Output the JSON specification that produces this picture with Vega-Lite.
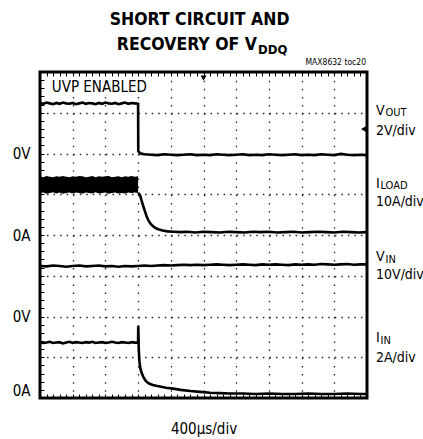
{
  "$schema": "https://vega.github.io/schema/vega-lite/v6.json",
  "width": 327,
  "height": 326,
  "autosize": "none",
  "padding": {"left": 40, "top": 72, "right": 56, "bottom": 41},
  "background": "white",
  "config": {
    "font": "DejaVu Sans Condensed, Liberation Sans, sans-serif",
    "view": {"stroke": "black", "strokeWidth": 3}
  },
  "data": {"values": [{}]},
  "datasets": {
    "traces": [
      {"s":"VOUT","t":0,"v":7.24},{"s":"VOUT","t":0.1,"v":7.22},{"s":"VOUT","t":0.2,"v":7.25},{"s":"VOUT","t":0.3,"v":7.23},{"s":"VOUT","t":0.4,"v":7.21},{"s":"VOUT","t":0.5,"v":7.24},{"s":"VOUT","t":0.6,"v":7.22},{"s":"VOUT","t":0.7,"v":7.25},{"s":"VOUT","t":0.8,"v":7.23},{"s":"VOUT","t":0.9,"v":7.22},
      {"s":"VOUT","t":1.0,"v":7.24},{"s":"VOUT","t":1.1,"v":7.21},{"s":"VOUT","t":1.2,"v":7.23},{"s":"VOUT","t":1.3,"v":7.25},{"s":"VOUT","t":1.4,"v":7.22},{"s":"VOUT","t":1.5,"v":7.24},{"s":"VOUT","t":1.6,"v":7.23},{"s":"VOUT","t":1.7,"v":7.21},{"s":"VOUT","t":1.8,"v":7.24},{"s":"VOUT","t":1.9,"v":7.22},
      {"s":"VOUT","t":2.0,"v":7.25},{"s":"VOUT","t":2.1,"v":7.23},{"s":"VOUT","t":2.2,"v":7.22},{"s":"VOUT","t":2.3,"v":7.24},{"s":"VOUT","t":2.4,"v":7.21},{"s":"VOUT","t":2.5,"v":7.23},{"s":"VOUT","t":2.6,"v":7.25},{"s":"VOUT","t":2.7,"v":7.22},{"s":"VOUT","t":2.8,"v":7.24},{"s":"VOUT","t":2.9,"v":7.23},{"s":"VOUT","t":3.0,"v":7.22},
      {"s":"VOUT","t":3.005,"v":6.06},{"s":"VOUT","t":3.03,"v":6.03},{"s":"VOUT","t":3.07,"v":6.01},{"s":"VOUT","t":3.12,"v":5.99},{"s":"VOUT","t":3.2,"v":5.98},
      {"s":"VOUT","t":3.4,"v":5.97},{"s":"VOUT","t":3.6,"v":5.96},{"s":"VOUT","t":3.8,"v":5.98},{"s":"VOUT","t":4.0,"v":5.97},{"s":"VOUT","t":4.2,"v":5.96},{"s":"VOUT","t":4.4,"v":5.97},{"s":"VOUT","t":4.6,"v":5.98},{"s":"VOUT","t":4.8,"v":5.96},{"s":"VOUT","t":5.0,"v":5.97},{"s":"VOUT","t":5.2,"v":5.96},
      {"s":"VOUT","t":5.4,"v":5.98},{"s":"VOUT","t":5.6,"v":5.97},{"s":"VOUT","t":5.8,"v":5.96},{"s":"VOUT","t":6.0,"v":5.97},{"s":"VOUT","t":6.2,"v":5.98},{"s":"VOUT","t":6.4,"v":5.96},{"s":"VOUT","t":6.6,"v":5.97},{"s":"VOUT","t":6.8,"v":5.96},{"s":"VOUT","t":7.0,"v":5.98},{"s":"VOUT","t":7.2,"v":5.97},
      {"s":"VOUT","t":7.4,"v":5.96},{"s":"VOUT","t":7.6,"v":5.97},{"s":"VOUT","t":7.8,"v":5.98},{"s":"VOUT","t":8.0,"v":5.96},{"s":"VOUT","t":8.2,"v":5.97},{"s":"VOUT","t":8.4,"v":5.96},{"s":"VOUT","t":8.6,"v":5.98},{"s":"VOUT","t":8.8,"v":5.97},{"s":"VOUT","t":9.0,"v":5.96},{"s":"VOUT","t":9.2,"v":5.99},{"s":"VOUT","t":9.4,"v":5.97},{"s":"VOUT","t":9.6,"v":5.96},{"s":"VOUT","t":9.8,"v":5.97},{"s":"VOUT","t":10,"v":5.96},

      {"s":"ILOAD","t":3.0,"v":5.03},{"s":"ILOAD","t":3.04,"v":5.0},{"s":"ILOAD","t":3.07,"v":4.95},{"s":"ILOAD","t":3.1,"v":4.86},{"s":"ILOAD","t":3.13,"v":4.78},{"s":"ILOAD","t":3.17,"v":4.68},{"s":"ILOAD","t":3.21,"v":4.58},{"s":"ILOAD","t":3.26,"v":4.46},{"s":"ILOAD","t":3.32,"v":4.35},{"s":"ILOAD","t":3.38,"v":4.28},
      {"s":"ILOAD","t":3.45,"v":4.22},{"s":"ILOAD","t":3.53,"v":4.17},{"s":"ILOAD","t":3.62,"v":4.14},{"s":"ILOAD","t":3.75,"v":4.11},{"s":"ILOAD","t":3.9,"v":4.09},{"s":"ILOAD","t":4.1,"v":4.08},{"s":"ILOAD","t":4.3,"v":4.07},{"s":"ILOAD","t":4.5,"v":4.08},{"s":"ILOAD","t":4.75,"v":4.06},{"s":"ILOAD","t":5.0,"v":4.08},
      {"s":"ILOAD","t":5.25,"v":4.07},{"s":"ILOAD","t":5.5,"v":4.06},{"s":"ILOAD","t":5.75,"v":4.08},{"s":"ILOAD","t":6.0,"v":4.07},{"s":"ILOAD","t":6.25,"v":4.06},{"s":"ILOAD","t":6.5,"v":4.08},{"s":"ILOAD","t":6.75,"v":4.07},{"s":"ILOAD","t":7.0,"v":4.08},{"s":"ILOAD","t":7.25,"v":4.06},{"s":"ILOAD","t":7.5,"v":4.07},
      {"s":"ILOAD","t":7.75,"v":4.08},{"s":"ILOAD","t":8.0,"v":4.06},{"s":"ILOAD","t":8.25,"v":4.07},{"s":"ILOAD","t":8.5,"v":4.08},{"s":"ILOAD","t":8.75,"v":4.07},{"s":"ILOAD","t":9.0,"v":4.06},{"s":"ILOAD","t":9.25,"v":4.08},{"s":"ILOAD","t":9.5,"v":4.07},{"s":"ILOAD","t":9.75,"v":4.06},{"s":"ILOAD","t":10,"v":4.07},

      {"s":"VIN","t":0,"v":3.24},{"s":"VIN","t":0.2,"v":3.23},{"s":"VIN","t":0.4,"v":3.25},{"s":"VIN","t":0.6,"v":3.24},{"s":"VIN","t":0.8,"v":3.22},{"s":"VIN","t":1.0,"v":3.24},{"s":"VIN","t":1.2,"v":3.25},{"s":"VIN","t":1.4,"v":3.23},{"s":"VIN","t":1.6,"v":3.24},{"s":"VIN","t":1.8,"v":3.25},
      {"s":"VIN","t":2.0,"v":3.23},{"s":"VIN","t":2.2,"v":3.24},{"s":"VIN","t":2.4,"v":3.22},{"s":"VIN","t":2.6,"v":3.24},{"s":"VIN","t":2.8,"v":3.23},{"s":"VIN","t":3.0,"v":3.24},{"s":"VIN","t":3.2,"v":3.25},{"s":"VIN","t":3.4,"v":3.24},{"s":"VIN","t":3.6,"v":3.25},{"s":"VIN","t":3.8,"v":3.26},
      {"s":"VIN","t":4.0,"v":3.25},{"s":"VIN","t":4.2,"v":3.26},{"s":"VIN","t":4.4,"v":3.27},{"s":"VIN","t":4.6,"v":3.26},{"s":"VIN","t":4.8,"v":3.27},{"s":"VIN","t":5.0,"v":3.26},{"s":"VIN","t":5.2,"v":3.27},{"s":"VIN","t":5.4,"v":3.28},{"s":"VIN","t":5.6,"v":3.27},{"s":"VIN","t":5.8,"v":3.26},
      {"s":"VIN","t":6.0,"v":3.27},{"s":"VIN","t":6.2,"v":3.28},{"s":"VIN","t":6.4,"v":3.27},{"s":"VIN","t":6.6,"v":3.26},{"s":"VIN","t":6.8,"v":3.28},{"s":"VIN","t":7.0,"v":3.27},{"s":"VIN","t":7.2,"v":3.28},{"s":"VIN","t":7.4,"v":3.27},{"s":"VIN","t":7.6,"v":3.26},{"s":"VIN","t":7.8,"v":3.28},
      {"s":"VIN","t":8.0,"v":3.27},{"s":"VIN","t":8.2,"v":3.28},{"s":"VIN","t":8.4,"v":3.27},{"s":"VIN","t":8.6,"v":3.29},{"s":"VIN","t":8.8,"v":3.28},{"s":"VIN","t":9.0,"v":3.27},{"s":"VIN","t":9.2,"v":3.28},{"s":"VIN","t":9.4,"v":3.29},{"s":"VIN","t":9.6,"v":3.27},{"s":"VIN","t":9.8,"v":3.28},{"s":"VIN","t":10,"v":3.28},

      {"s":"IIN","t":0,"v":1.37},{"s":"IIN","t":0.1,"v":1.35},{"s":"IIN","t":0.2,"v":1.36},{"s":"IIN","t":0.3,"v":1.38},{"s":"IIN","t":0.4,"v":1.35},{"s":"IIN","t":0.5,"v":1.36},{"s":"IIN","t":0.6,"v":1.37},{"s":"IIN","t":0.7,"v":1.34},{"s":"IIN","t":0.8,"v":1.36},{"s":"IIN","t":0.9,"v":1.38},
      {"s":"IIN","t":1.0,"v":1.35},{"s":"IIN","t":1.1,"v":1.37},{"s":"IIN","t":1.2,"v":1.36},{"s":"IIN","t":1.3,"v":1.35},{"s":"IIN","t":1.4,"v":1.37},{"s":"IIN","t":1.5,"v":1.36},{"s":"IIN","t":1.6,"v":1.38},{"s":"IIN","t":1.7,"v":1.35},{"s":"IIN","t":1.8,"v":1.36},{"s":"IIN","t":1.9,"v":1.37},
      {"s":"IIN","t":2.0,"v":1.35},{"s":"IIN","t":2.1,"v":1.36},{"s":"IIN","t":2.2,"v":1.38},{"s":"IIN","t":2.3,"v":1.36},{"s":"IIN","t":2.4,"v":1.35},{"s":"IIN","t":2.5,"v":1.37},{"s":"IIN","t":2.6,"v":1.36},{"s":"IIN","t":2.7,"v":1.35},{"s":"IIN","t":2.8,"v":1.37},{"s":"IIN","t":2.9,"v":1.36},{"s":"IIN","t":3.0,"v":1.36},
      {"s":"IIN","t":3.005,"v":1.77},{"s":"IIN","t":3.02,"v":1.2},{"s":"IIN","t":3.04,"v":0.9},{"s":"IIN","t":3.07,"v":0.72},{"s":"IIN","t":3.11,"v":0.61},{"s":"IIN","t":3.16,"v":0.52},{"s":"IIN","t":3.21,"v":0.45},{"s":"IIN","t":3.26,"v":0.4},{"s":"IIN","t":3.35,"v":0.35},{"s":"IIN","t":3.45,"v":0.32},
      {"s":"IIN","t":3.55,"v":0.3},{"s":"IIN","t":3.67,"v":0.28},{"s":"IIN","t":3.85,"v":0.25},{"s":"IIN","t":4.07,"v":0.23},{"s":"IIN","t":4.3,"v":0.2},{"s":"IIN","t":4.6,"v":0.17},{"s":"IIN","t":4.89,"v":0.15},{"s":"IIN","t":5.2,"v":0.13},{"s":"IIN","t":5.5,"v":0.12},{"s":"IIN","t":5.8,"v":0.11},
      {"s":"IIN","t":6.2,"v":0.11},{"s":"IIN","t":6.6,"v":0.1},{"s":"IIN","t":7.0,"v":0.11},{"s":"IIN","t":7.4,"v":0.1},{"s":"IIN","t":7.8,"v":0.1},{"s":"IIN","t":8.2,"v":0.11},{"s":"IIN","t":8.6,"v":0.1},{"s":"IIN","t":9.0,"v":0.1},{"s":"IIN","t":9.4,"v":0.11},{"s":"IIN","t":9.8,"v":0.1},{"s":"IIN","t":10,"v":0.1}
    ],
    "band": [
      {"t":0,"lo":5.03,"hi":5.44},{"t":0.1,"lo":5.04,"hi":5.42},{"t":0.2,"lo":5.01,"hi":5.45},{"t":0.3,"lo":5.03,"hi":5.43},{"t":0.4,"lo":5.05,"hi":5.42},{"t":0.5,"lo":5.02,"hi":5.44},{"t":0.6,"lo":5.04,"hi":5.43},{"t":0.7,"lo":5.01,"hi":5.45},{"t":0.8,"lo":5.03,"hi":5.43},{"t":0.9,"lo":5.04,"hi":5.42},
      {"t":1.0,"lo":5.02,"hi":5.44},{"t":1.1,"lo":5.04,"hi":5.43},{"t":1.2,"lo":5.03,"hi":5.45},{"t":1.3,"lo":5.01,"hi":5.44},{"t":1.4,"lo":5.04,"hi":5.42},{"t":1.5,"lo":5.03,"hi":5.43},{"t":1.6,"lo":5.02,"hi":5.45},{"t":1.7,"lo":5.05,"hi":5.42},{"t":1.8,"lo":5.02,"hi":5.44},{"t":1.9,"lo":5.03,"hi":5.43},
      {"t":2.0,"lo":5.04,"hi":5.44},{"t":2.1,"lo":5.01,"hi":5.45},{"t":2.2,"lo":5.03,"hi":5.42},{"t":2.3,"lo":5.04,"hi":5.43},{"t":2.4,"lo":5.02,"hi":5.44},{"t":2.5,"lo":5.03,"hi":5.42},{"t":2.6,"lo":5.02,"hi":5.44},{"t":2.7,"lo":5.04,"hi":5.43},{"t":2.8,"lo":5.03,"hi":5.45},{"t":2.9,"lo":5.04,"hi":5.43},{"t":3.0,"lo":5.03,"hi":5.44}
    ]
  },
  "layer": [
    {
      "data": {"name": "traces"},
      "mark": {"type": "line", "color": "black", "strokeWidth": 2.6},
      "encoding": {
        "x": {
          "field": "t", "type": "quantitative",
          "scale": {"domain": [0, 10], "nice": false, "zero": false},
          "axis": {
            "orient": "bottom",
            "values": [0,0.2,0.4,0.6,0.8,1,1.2,1.4,1.6,1.8,2,2.2,2.4,2.6,2.8,3,3.2,3.4,3.6,3.8,4,4.2,4.4,4.6,4.8,5,5.2,5.4,5.6,5.8,6,6.2,6.4,6.6,6.8,7,7.2,7.4,7.6,7.8,8,8.2,8.4,8.6,8.8,9,9.2,9.4,9.6,9.8,10],
            "grid": true, "gridColor": "black", "gridWidth": 1.3, "gridDash": [1.5, 6.65],
            "gridOpacity": {"condition": {"test": "abs(datum.value - round(datum.value)) < 0.01 && datum.value > 0.5 && datum.value < 9.5", "value": 0.85}, "value": 0},
            "ticks": true, "tickSize": -4, "tickColor": "black", "tickWidth": 1,
            "labels": false, "domain": false,
            "title": "400µs/div", "titleFontSize": 15, "titleFontWeight": "normal", "titleColor": "black",
            "titleBaseline": "alphabetic", "titleY": 35
          }
        },
        "y": {
          "field": "v", "type": "quantitative",
          "scale": {"domain": [0, 8], "nice": false, "zero": false},
          "axis": {
            "orient": "left",
            "values": [0,0.2,0.4,0.6,0.8,1,1.2,1.4,1.6,1.8,2,2.2,2.4,2.6,2.8,3,3.2,3.4,3.6,3.8,4,4.2,4.4,4.6,4.8,5,5.2,5.4,5.6,5.8,6,6.2,6.4,6.6,6.8,7,7.2,7.4,7.6,7.8,8],
            "grid": true, "gridColor": "black", "gridWidth": 1.3, "gridDash": [1.5, 5.04],
            "gridOpacity": {"condition": {"test": "abs(datum.value - round(datum.value)) < 0.01 && datum.value > 0.5 && datum.value < 7.5", "value": 0.85}, "value": 0},
            "ticks": true, "tickSize": -4, "tickColor": "black", "tickWidth": 1,
            "domain": false, "title": null,
            "labelExpr": "abs(datum.value-6)<0.01 ? '0V' : abs(datum.value-4)<0.01 ? '0A' : abs(datum.value-2)<0.01 ? '0V' : abs(datum.value)<0.01 ? '0A' : ''",
            "labelFontSize": 15, "labelColor": "black", "labelPadding": 14, "labelOverlap": false, "labelFlush": true
          }
        },
        "detail": {"field": "s"}
      }
    },
    {
      "data": {"name": "traces"},
      "mark": {"type": "point", "opacity": 0},
      "encoding": {
        "x": {
          "field": "t", "type": "quantitative",
          "axis": {
            "orient": "top",
            "values": [0,0.2,0.4,0.6,0.8,1,1.2,1.4,1.6,1.8,2,2.2,2.4,2.6,2.8,3,3.2,3.4,3.6,3.8,4,4.2,4.4,4.6,4.8,5,5.2,5.4,5.6,5.8,6,6.2,6.4,6.6,6.8,7,7.2,7.4,7.6,7.8,8,8.2,8.4,8.6,8.8,9,9.2,9.4,9.6,9.8,10],
            "grid": false, "ticks": true, "tickSize": -4, "tickColor": "black", "tickWidth": 1,
            "labels": false, "domain": false, "title": null
          }
        },
        "y": {"field": "v", "type": "quantitative", "axis": null}
      }
    },
    {
      "data": {"name": "band"},
      "mark": {"type": "area", "color": "black"},
      "encoding": {
        "x": {"field": "t", "type": "quantitative", "axis": null},
        "y": {"field": "lo", "type": "quantitative", "axis": null},
        "y2": {"field": "hi"}
      }
    },
    {
      "mark": {"type": "point", "shape": "triangle-down", "filled": true, "color": "black", "size": 35, "opacity": 1},
      "encoding": {"x": {"datum": 5, "type": "quantitative", "axis": null}, "y": {"datum": 7.85, "type": "quantitative", "axis": null}}
    },
    {
      "mark": {"type": "point", "shape": "triangle-left", "filled": true, "color": "black", "size": 40, "opacity": 1},
      "encoding": {"x": {"datum": 9.9, "type": "quantitative", "axis": null}, "y": {"datum": 6.6, "type": "quantitative", "axis": null}}
    },
    {
      "mark": {"type": "text", "text": "SHORT CIRCUIT AND", "fontWeight": "bold", "fontSize": 17.5, "align": "center", "baseline": "alphabetic", "color": "black"},
      "encoding": {"x": {"datum": 4.88, "type": "quantitative", "axis": null}, "y": {"datum": 9.153, "type": "quantitative", "axis": null}}
    },
    {
      "mark": {"type": "text", "text": "RECOVERY OF V", "fontWeight": "bold", "fontSize": 17.5, "align": "right", "baseline": "alphabetic", "color": "black"},
      "encoding": {"x": {"datum": 6.636, "type": "quantitative", "axis": null}, "y": {"datum": 8.552, "type": "quantitative", "axis": null}}
    },
    {
      "mark": {"type": "text", "text": "DDQ", "fontWeight": "bold", "fontSize": 13, "align": "left", "baseline": "alphabetic", "dx": 1, "dy": 4.5, "color": "black"},
      "encoding": {"x": {"datum": 6.636, "type": "quantitative", "axis": null}, "y": {"datum": 8.552, "type": "quantitative", "axis": null}}
    },
    {
      "mark": {"type": "text", "text": "MAX8632 toc20", "fontSize": 8.5, "align": "right", "baseline": "alphabetic", "color": "black"},
      "encoding": {"x": {"datum": 9.97, "type": "quantitative", "axis": null}, "y": {"datum": 8.17, "type": "quantitative", "axis": null}}
    },
    {
      "mark": {"type": "text", "text": "UVP ENABLED", "fontSize": 15, "align": "left", "baseline": "alphabetic", "color": "black"},
      "encoding": {"x": {"datum": 0.36, "type": "quantitative", "axis": null}, "y": {"datum": 7.52, "type": "quantitative", "axis": null}}
    },
    {
      "mark": {"type": "text", "text": "V", "fontSize": 14, "align": "left", "baseline": "alphabetic", "color": "black"},
      "encoding": {"x": {"datum": 10.275, "type": "quantitative", "axis": null}, "y": {"datum": 6.95, "type": "quantitative", "axis": null}}
    },
    {
      "mark": {"type": "text", "text": "OUT", "fontSize": 11, "align": "left", "baseline": "alphabetic", "dx": 9.5, "dy": 1.5, "color": "black"},
      "encoding": {"x": {"datum": 10.275, "type": "quantitative", "axis": null}, "y": {"datum": 6.95, "type": "quantitative", "axis": null}}
    },
    {
      "mark": {"type": "text", "text": "2V/div", "fontSize": 14, "align": "left", "baseline": "alphabetic", "color": "black"},
      "encoding": {"x": {"datum": 10.275, "type": "quantitative", "axis": null}, "y": {"datum": 6.45, "type": "quantitative", "axis": null}}
    },
    {
      "mark": {"type": "text", "text": "I", "fontSize": 14, "align": "left", "baseline": "alphabetic", "color": "black"},
      "encoding": {"x": {"datum": 10.275, "type": "quantitative", "axis": null}, "y": {"datum": 5.16, "type": "quantitative", "axis": null}}
    },
    {
      "mark": {"type": "text", "text": "LOAD", "fontSize": 11, "align": "left", "baseline": "alphabetic", "dx": 4.5, "dy": 1.5, "color": "black"},
      "encoding": {"x": {"datum": 10.275, "type": "quantitative", "axis": null}, "y": {"datum": 5.16, "type": "quantitative", "axis": null}}
    },
    {
      "mark": {"type": "text", "text": "10A/div", "fontSize": 14, "align": "left", "baseline": "alphabetic", "color": "black"},
      "encoding": {"x": {"datum": 10.275, "type": "quantitative", "axis": null}, "y": {"datum": 4.72, "type": "quantitative", "axis": null}}
    },
    {
      "mark": {"type": "text", "text": "V", "fontSize": 14, "align": "left", "baseline": "alphabetic", "color": "black"},
      "encoding": {"x": {"datum": 10.275, "type": "quantitative", "axis": null}, "y": {"datum": 3.36, "type": "quantitative", "axis": null}}
    },
    {
      "mark": {"type": "text", "text": "IN", "fontSize": 11, "align": "left", "baseline": "alphabetic", "dx": 9.5, "dy": 1.5, "color": "black"},
      "encoding": {"x": {"datum": 10.275, "type": "quantitative", "axis": null}, "y": {"datum": 3.36, "type": "quantitative", "axis": null}}
    },
    {
      "mark": {"type": "text", "text": "10V/div", "fontSize": 14, "align": "left", "baseline": "alphabetic", "color": "black"},
      "encoding": {"x": {"datum": 10.275, "type": "quantitative", "axis": null}, "y": {"datum": 2.92, "type": "quantitative", "axis": null}}
    },
    {
      "mark": {"type": "text", "text": "I", "fontSize": 14, "align": "left", "baseline": "alphabetic", "color": "black"},
      "encoding": {"x": {"datum": 10.275, "type": "quantitative", "axis": null}, "y": {"datum": 1.37, "type": "quantitative", "axis": null}}
    },
    {
      "mark": {"type": "text", "text": "IN", "fontSize": 11, "align": "left", "baseline": "alphabetic", "dx": 4.5, "dy": 1.5, "color": "black"},
      "encoding": {"x": {"datum": 10.275, "type": "quantitative", "axis": null}, "y": {"datum": 1.37, "type": "quantitative", "axis": null}}
    },
    {
      "mark": {"type": "text", "text": "2A/div", "fontSize": 14, "align": "left", "baseline": "alphabetic", "color": "black"},
      "encoding": {"x": {"datum": 10.275, "type": "quantitative", "axis": null}, "y": {"datum": 0.88, "type": "quantitative", "axis": null}}
    }
  ],
  "resolve": {"axis": {"x": "independent", "y": "independent"}}
}
